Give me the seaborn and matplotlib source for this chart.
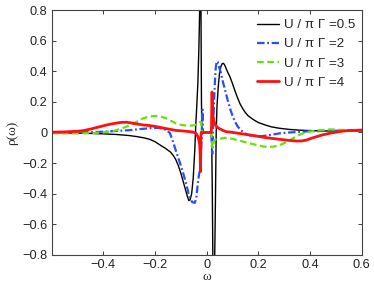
import numpy as np
import matplotlib
matplotlib.use("Agg")
import matplotlib.pyplot as plt
import seaborn as sns

# ── data ─────────────────────────────────────────────────────────────────────
omega_05 = [-0.60, -0.55, -0.50, -0.45, -0.40, -0.35, -0.30, -0.27, -0.24, -0.22,
            -0.20, -0.18, -0.16, -0.14, -0.13, -0.12, -0.11, -0.10, -0.09, -0.08,
            -0.074, -0.069, -0.064, -0.058, -0.052, -0.046, -0.042, -0.038, -0.034,
            -0.030, -0.027, -0.024, -0.022, -0.021, -0.020, -0.019, -0.017,
            0.018, 0.020, 0.022, 0.024, 0.027, 0.031, 0.034, 0.037, 0.040, 0.045,
            0.050, 0.055, 0.060, 0.065, 0.070, 0.080, 0.090, 0.100, 0.110, 0.120,
            0.130, 0.140, 0.150, 0.160, 0.180, 0.200, 0.225, 0.250, 0.280, 0.320,
            0.360, 0.410, 0.460, 0.520, 0.600]
rho_05 = [0.000, -0.002, -0.004, -0.006, -0.009, -0.013, -0.020, -0.027, -0.036, -0.045,
          -0.060, -0.082, -0.103, -0.128, -0.148, -0.175, -0.215, -0.265, -0.325, -0.385,
          -0.420, -0.445, -0.440, -0.400, -0.300, -0.120, 0.050, 0.180, 0.320,
          0.550, 0.800, 1.050, 0.850, 0.500, 0.200, 0.050, 0.000,
          0.000, -0.100, -0.400, -0.800, -1.050, -0.850, -0.450, 0.000, 0.170, 0.300,
          0.390, 0.430, 0.450, 0.452, 0.440, 0.400, 0.365, 0.320, 0.270, 0.225,
          0.185, 0.155, 0.130, 0.110, 0.085, 0.065, 0.050, 0.037, 0.028, 0.020,
          0.015, 0.012, 0.010, 0.010, 0.010]

omega_2 = [-0.60, -0.50, -0.45, -0.40, -0.35, -0.30, -0.26, -0.22, -0.19, -0.17,
           -0.155, -0.142, -0.13, -0.116, -0.103, -0.090, -0.077, -0.067, -0.056,
           -0.046, -0.040, -0.034, -0.029, -0.025, -0.022, -0.019, -0.018, -0.017,
           -0.016, -0.015, -0.014,
           0.018, 0.020, 0.021, 0.022, 0.024, 0.026, 0.029, 0.032, 0.035, 0.039,
           0.043, 0.048, 0.055, 0.063, 0.071, 0.080, 0.090, 0.100, 0.110, 0.120,
           0.130, 0.142, 0.155, 0.170, 0.200, 0.220, 0.250, 0.285, 0.320, 0.350,
           0.400, 0.450, 0.520, 0.600]
rho_2 = [0.000, 0.000, 0.002, 0.005, 0.010, 0.015, 0.022, 0.028, 0.030, 0.025,
         0.016, -0.005, -0.060, -0.136, -0.200, -0.270, -0.350, -0.420, -0.455,
         -0.460, -0.430, -0.330, -0.270, -0.240, -0.130, -0.030, 0.050, 0.100,
         0.150, 0.050, 0.000,
         0.000, -0.060, -0.130, -0.140, -0.050, 0.080, 0.220, 0.330, 0.420, 0.465,
         0.460, 0.430, 0.390, 0.330, 0.280, 0.220, 0.160, 0.110, 0.070, 0.040,
         0.020, 0.000, -0.012, -0.020, -0.024, -0.023, -0.015, -0.005, 0.000, 0.003,
         0.008, 0.010, 0.012, 0.010]

omega_3 = [-0.60, -0.55, -0.50, -0.45, -0.40, -0.36, -0.33, -0.30, -0.27, -0.245,
           -0.22, -0.20, -0.18, -0.16, -0.14, -0.12, -0.10, -0.08, -0.06, -0.045,
           -0.034, -0.026, -0.022, -0.020, -0.018,
           0.018, 0.020, 0.022, 0.025, 0.030, 0.037, 0.050, 0.070, 0.090, 0.120,
           0.142, 0.170, 0.194, 0.220, 0.240, 0.260, 0.284, 0.310, 0.335, 0.355,
           0.374, 0.400, 0.430, 0.480, 0.540, 0.600]
rho_3 = [-0.005, -0.006, -0.006, -0.004, 0.000, 0.010, 0.025, 0.045, 0.070, 0.093,
         0.105, 0.108, 0.105, 0.095, 0.078, 0.060, 0.050, 0.046, 0.045, 0.048,
         0.058, 0.068, 0.070, 0.040, 0.000,
         0.000, -0.050, -0.100, -0.080, -0.050, -0.045, -0.042, -0.035, -0.038, -0.050,
         -0.060, -0.072, -0.082, -0.092, -0.095, -0.092, -0.082, -0.062, -0.038, -0.018,
         -0.005, 0.006, 0.014, 0.020, 0.016, 0.012]

omega_4 = [-0.60, -0.55, -0.50, -0.478, -0.45, -0.413, -0.38, -0.348, -0.33, -0.31,
           -0.29, -0.271, -0.25, -0.22, -0.20, -0.181, -0.168, -0.14, -0.116, -0.092,
           -0.07, -0.053, -0.045, -0.040, -0.034, -0.030, -0.027, -0.025, -0.024,
           -0.023, -0.022, -0.021,
           0.018, 0.019, 0.020, 0.021, 0.022, 0.024, 0.027, 0.032, 0.040, 0.051,
           0.065, 0.076, 0.090, 0.110, 0.142, 0.180, 0.219, 0.250, 0.284, 0.320,
           0.348, 0.370, 0.387, 0.405, 0.426, 0.450, 0.477, 0.510, 0.542, 0.600]
rho_4 = [0.002, 0.004, 0.008, 0.012, 0.022, 0.038, 0.052, 0.062, 0.066, 0.067,
         0.062, 0.056, 0.050, 0.045, 0.040, 0.034, 0.029, 0.020, 0.013, 0.010,
         0.006, 0.003, -0.002, -0.008, -0.027, -0.050, -0.080, -0.150, -0.256,
         -0.150, -0.020, 0.000,
         0.000, 0.050, 0.180, 0.265, 0.200, 0.120, 0.080, 0.055, 0.035, 0.024,
         0.012, 0.005, 0.003, -0.002, -0.010, -0.020, -0.031, -0.038, -0.045, -0.052,
         -0.056, -0.055, -0.049, -0.038, -0.027, -0.015, -0.005, 0.005, 0.012, 0.016]

labels = ["U / π Γ =0.5", "U / π Γ =2", "U / π Γ =3", "U / π Γ =4"]
x_ticks = [-0.4, -0.2, 0, 0.2, 0.4, 0.6]
y_ticks = [-0.8, -0.6, -0.4, -0.2, 0, 0.2, 0.4, 0.6, 0.8]

# ── plot ─────────────────────────────────────────────────────────────────────
sns.set_style("white")
plt.rcParams["font.family"] = ["Liberation Sans", "DejaVu Sans"]
plt.rcParams["axes.unicode_minus"] = True

fig = plt.figure(figsize=(3.74, 2.88), dpi=100)
ax = fig.add_axes([0.138, 0.115, 0.829, 0.85])

series = [
    (omega_05, rho_05, "black", 1.0, "-"),
    (omega_2, rho_2, "#2a4dff", 1.6, (0, (3.4, 1.2, 0.8, 1.2))),
    (omega_3, rho_3, "#66e011", 1.6, (0, (3.0, 1.6))),
    (omega_4, rho_4, "#ff1010", 2.0, "-"),
]
for (xs, ys, col, lw, ls), lab in zip(series, labels):
    sns.lineplot(x=xs, y=ys, ax=ax, color=col, linewidth=lw, linestyle=ls,
                 label=lab, sort=False, estimator=None)

ax.set_xlim(-0.6, 0.6)
ax.set_ylim(-0.8, 0.8)
ax.set_xticks(x_ticks)
ax.set_xticklabels(["\u22120.4", "\u22120.2", "0", "0.2", "0.4", "0.6"])
ax.set_yticks(y_ticks)
ax.set_yticklabels(["\u22120.8", "\u22120.6", "\u22120.4", "\u22120.2", "0",
                    "0.2", "0.4", "0.6", "0.8"])
ax.tick_params(direction="in", length=3, width=0.6, labelsize=9.2,
               top=True, right=True, bottom=True, left=True, pad=3, colors="#222")
for sp in ax.spines.values():
    sp.set_color("#444")
    sp.set_linewidth(0.8)

ax.set_xlabel("ω", fontsize=9.5, family=["Liberation Serif", "DejaVu Serif"], labelpad=0)
ax.set_ylabel("ρ(ω)", fontsize=9.5, family=["Liberation Serif", "DejaVu Serif"], labelpad=3)

ax.legend(loc="upper left", bbox_to_anchor=(0.655, 0.975), frameon=False,
          fontsize=9.6, handlelength=1.6, handletextpad=0.4, labelspacing=0.52,
          borderpad=0.2, borderaxespad=0)

fig.savefig("out.png", dpi=100)
